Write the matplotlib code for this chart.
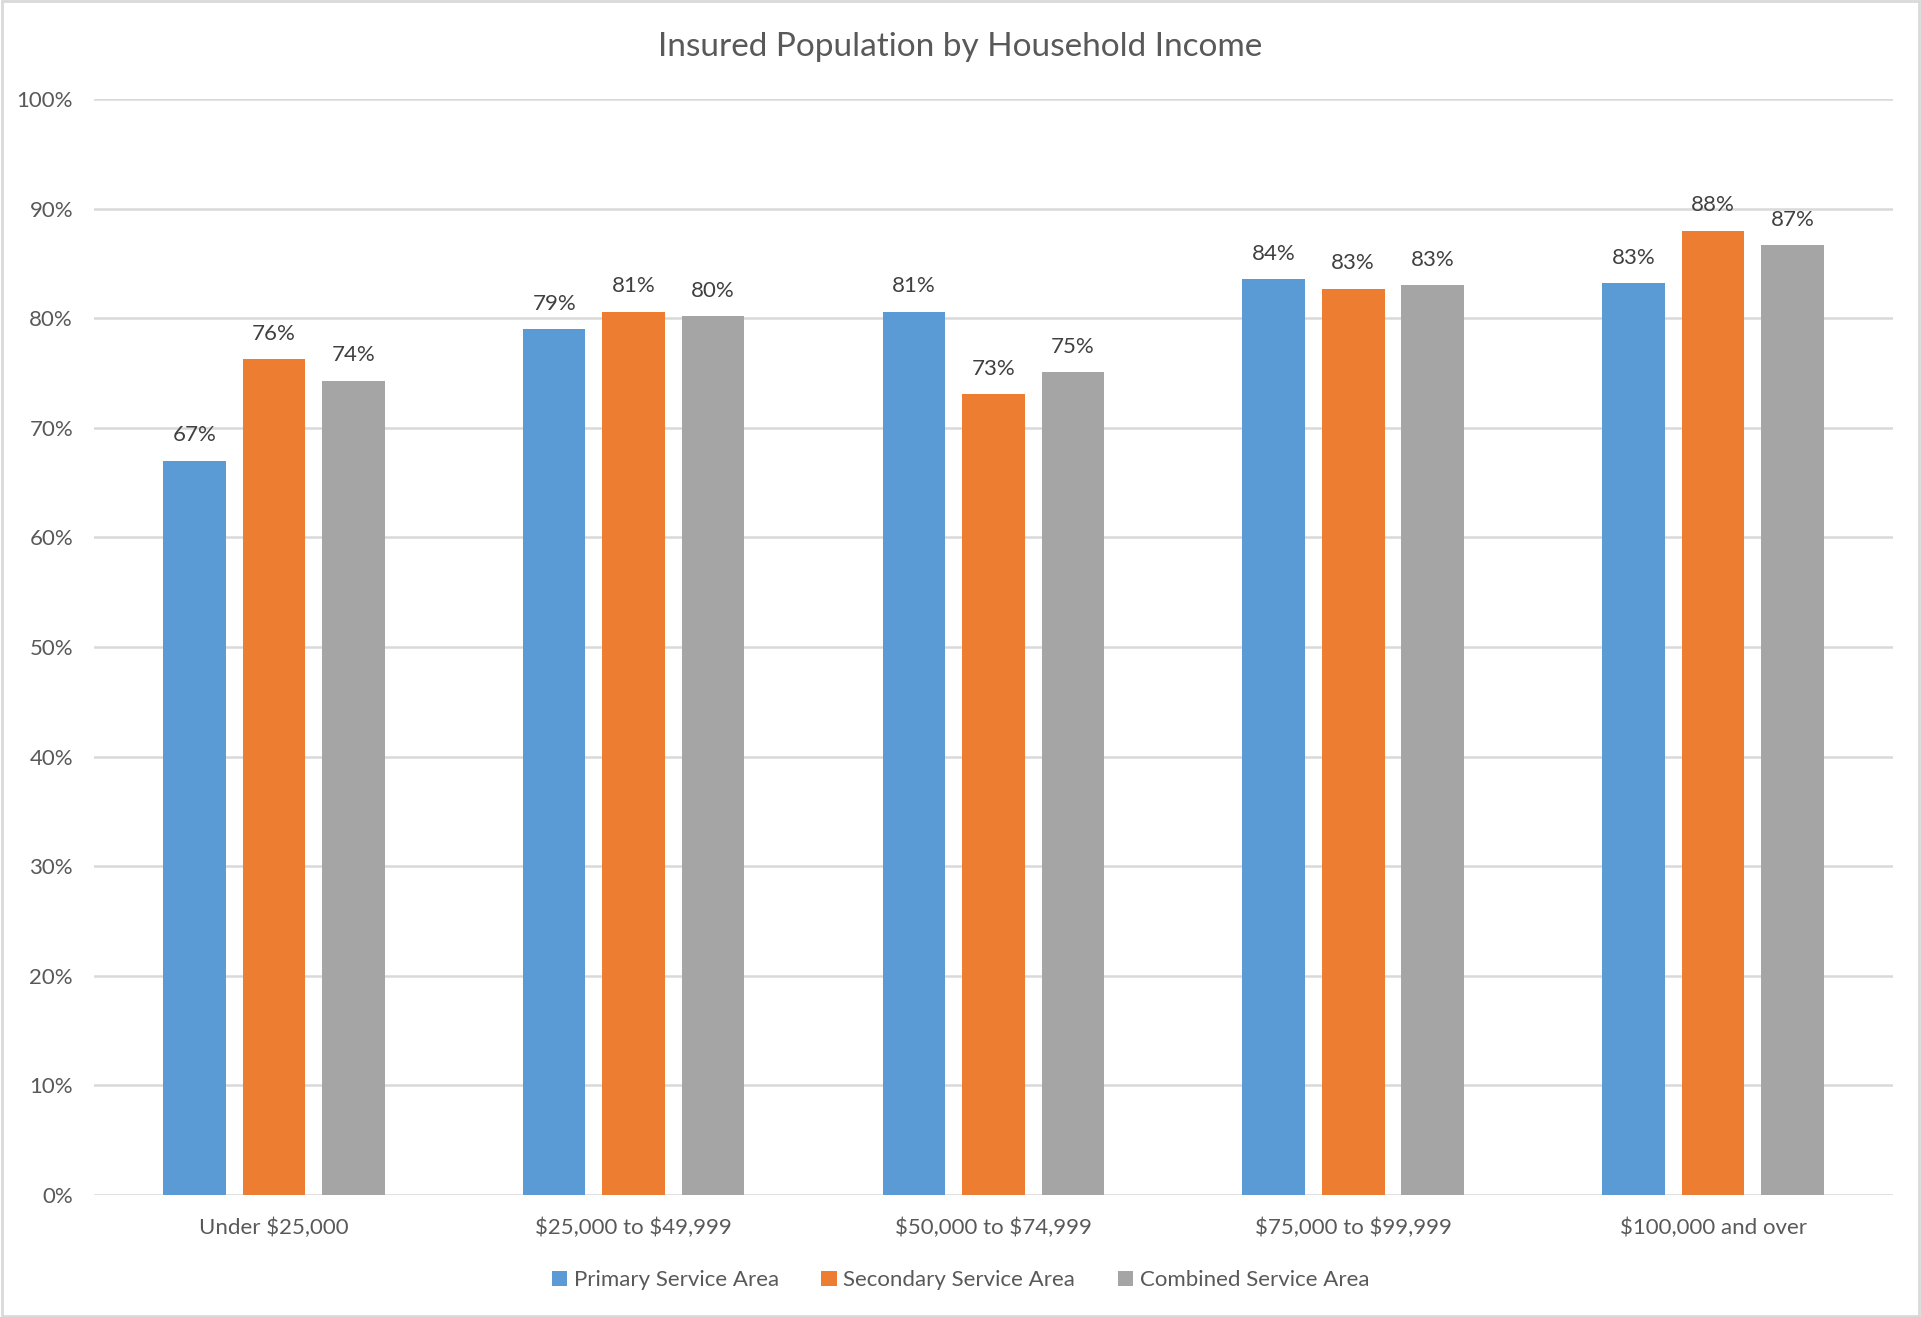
import numpy as np
import matplotlib.pyplot as plt
from matplotlib.patches import Rectangle
from matplotlib.ticker import PercentFormatter

categories = ["Under $25,000", "$25,000 to $49,999", "$50,000 to $74,999",
              "$75,000 to $99,999", "$100,000 and over"]
primary = [0.670, 0.790, 0.806, 0.836, 0.832]
secondary = [0.763, 0.806, 0.731, 0.827, 0.880]
combined = [0.743, 0.802, 0.751, 0.830, 0.867]
series_names = ["Primary Service Area", "Secondary Service Area", "Combined Service Area"]
colors = ["#5B9BD5", "#ED7D31", "#A5A5A5"]

plt.rcParams['font.family'] = ['Lato', 'DejaVu Sans']
plt.rcParams['text.parse_math'] = False
txt = "#595959"

fig = plt.figure(figsize=(19.21, 13.17), dpi=100)
ax = fig.add_axes([0.0489, 0.0926, 0.9365, 0.8322])

x = np.arange(len(categories))
w = 0.174
step = 0.221
for i, (vals, name, c) in enumerate(zip([primary, secondary, combined], series_names, colors)):
    bars = ax.bar(x + (i - 1) * step, vals, w, color=c, label=name, zorder=3)
    ax.bar_label(bars, labels=[f"{v*100:.0f}%" for v in vals], padding=11,
                 fontsize=16, color="#404040")

ax.set_xlim(-0.5, len(categories) - 0.5)
ax.set_ylim(0, 1.0)
ax.set_yticks(np.arange(0, 1.01, 0.1))
ax.yaxis.set_major_formatter(PercentFormatter(1.0, decimals=0))
ax.set_xticks(x)
ax.set_xticklabels(categories)
ax.tick_params(axis='both', length=0, labelsize=16, labelcolor=txt)
ax.tick_params(axis='y', pad=15)
ax.tick_params(axis='x', pad=16)
ax.grid(axis='y', color="#D9D9D9", linewidth=1.8, zorder=0)
for s in ax.spines.values():
    s.set_visible(False)

fig.text(0.5, 0.964, "Insured Population by Household Income", ha='center', va='center',
         fontsize=24, color=txt)

fig.legend(loc='center', bbox_to_anchor=(0.5, 0.028), ncol=3, frameon=False,
           fontsize=16, labelcolor=txt, handlelength=0.7, handleheight=0.7,
           handletextpad=0.3, columnspacing=1.9)

fig.patches.append(Rectangle((0.001, 0.001), 0.998, 0.998, transform=fig.transFigure,
                             fill=False, edgecolor="#D9D9D9", linewidth=2))

fig.savefig("out.png", dpi=100)
